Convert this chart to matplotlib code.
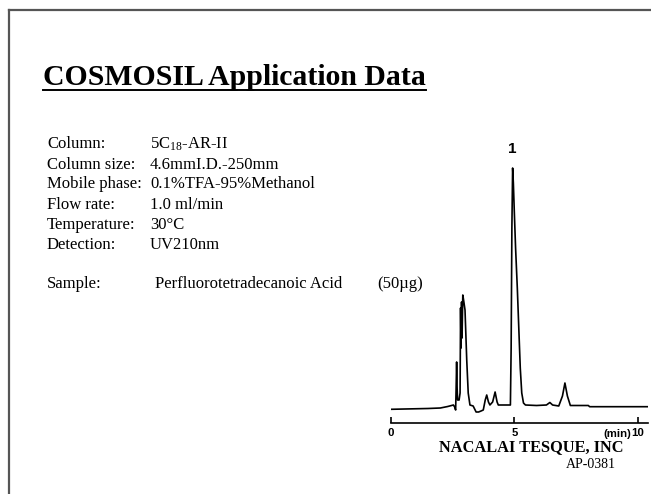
import matplotlib
matplotlib.use("Agg")
import matplotlib.pyplot as plt
from matplotlib.lines import Line2D

# chromatogram trace (time in min, detector signal in arbitrary units)
time_min = [0.0, 1.5, 2.0, 2.3, 2.53, 2.58, 2.62, 2.64, 2.66, 2.68, 2.70, 2.76, 2.80, 2.82,
            2.84, 2.86, 2.88, 2.91, 2.93, 2.96, 3.00, 3.07, 3.13, 3.20, 3.33, 3.45, 3.55,
            3.65, 3.74, 3.82, 3.88, 3.95, 4.01, 4.12, 4.22, 4.30, 4.35, 4.50, 4.76, 4.84,
            4.87, 4.90, 4.93, 4.96, 5.00, 5.05, 5.12, 5.18, 5.24, 5.30, 5.37, 5.45, 5.9,
            6.3, 6.44, 6.55, 6.8, 6.95, 7.05, 7.15, 7.27, 8.0, 8.05, 10.43]
signal = [-1.3, -0.5, 0, 1.5, 3, 1, -2, 20, 46, 20, 8, 8, 15, 100,
          60, 106, 70, 113, 110, 105, 98, 48, 15, 3, 2, -4, -4,
          -3, -2, 8, 13, 6, 3, 6, 16, 6, 3, 3, 3, 3,
          60, 180, 240, 225, 195, 160, 120, 80, 40, 15, 5, 3, 2.5,
          3, 5.5, 3, 2, 12, 25, 12, 2.5, 2.5, 1.3, 1.3]

tick_pos = [0, 5, 10]
tick_labels = ["0", "5", "10"]
peak_label = "1"
peak_time = 4.93

title = "COSMOSIL Application Data"
cond_labels = ["Column:", "Column size:", "Mobile phase:", "Flow rate:", "Temperature:", "Detection:"]
cond_values = [r"5C$_{18}$-AR-II", "4.6mmI.D.-250mm", "0.1%TFA-95%Methanol",
               "1.0 ml/min", "30°C", "UV210nm"]
sample_name = "Perfluorotetradecanoic Acid"
sample_amount = "(50µg)"

plt.rcParams["mathtext.default"] = "regular"
serif = "Liberation Serif"
sans = "Liberation Sans"

W, H = 651, 494
fig = plt.figure(figsize=(W / 100, H / 100), dpi=100)


def fx(px):
    return px / W


def fy(py):
    return 1 - py / H


# page frame (left and top edges)
fig.add_artist(Line2D([fx(8.5), fx(8.5)], [0, fy(10.5)], color="#555555", lw=1.6))
fig.add_artist(Line2D([fx(8.5), 1], [fy(10.5), fy(10.5)], color="#555555", lw=1.6))

# title with underline
t = fig.text(fx(43), fy(85), title, family=serif, weight="bold", size=21.4, va="baseline")
fig.canvas.draw()
bb = t.get_window_extent()
fig.add_artist(Line2D([bb.x0 / W, bb.x1 / W], [fy(90.5), fy(90.5)], color="black", lw=1.4))

# conditions
fs = 12
row0, step = 148.5, 20
for i, (lab, val) in enumerate(zip(cond_labels, cond_values)):
    y = row0 + i * step
    fig.text(fx(47), fy(y), lab, family=serif, size=fs, va="baseline")
    fig.text(fx(150), fy(y), val, family=serif, size=fs, va="baseline")
ys = 287.5
fig.text(fx(47), fy(ys), "Sample:", family=serif, size=fs, va="baseline")
fig.text(fx(155), fy(ys), sample_name, family=serif, size=fs, va="baseline")
fig.text(fx(377), fy(ys), sample_amount, family=serif, size=fs, va="baseline")

# chromatogram
x0, x10 = 391, 637.7
ppm = (x10 - x0) / 10
ax_left, ax_right = 391, 648
ax_top, ax_bot = 140, 423
ax = fig.add_axes([fx(ax_left), fy(ax_bot), (ax_right - ax_left) / W, (ax_bot - ax_top) / H])
ax.plot(time_min, signal, color="black", lw=1.2)
ax.set_xlim(0, (ax_right - x0) / ppm)
ax.set_ylim(408 - ax_bot, 408 - ax_top)
for s in ["left", "right", "top"]:
    ax.spines[s].set_visible(False)
ax.spines["bottom"].set_linewidth(1.2)
ax.set_yticks([])
ax.set_xticks(tick_pos)
ax.set_xticklabels(tick_labels)
ax.tick_params(axis="x", direction="in", length=4, width=1.2, pad=3.5, labelsize=8.2)
for lb in ax.get_xticklabels():
    lb.set_fontfamily(sans)
    lb.set_fontweight("bold")
ax.text(10 - 6.5 / ppm, 408 - 436.5, "(min)", ha="right", va="baseline", family=sans,
        weight="bold", size=8.2, clip_on=False)
ax.text(peak_time, 240 + 12, peak_label, ha="center", va="bottom", family=sans,
        weight="bold", size=11)
ax.patch.set_visible(False)

fig.text(fx(531), fy(451), "NACALAI TESQUE, INC", family=serif, weight="bold", size=11.8,
         ha="center", va="baseline")
fig.text(fx(616), fy(467.5), "AP-0381", family=serif, size=10, ha="right", va="baseline")

fig.savefig("out.png", dpi=100)
